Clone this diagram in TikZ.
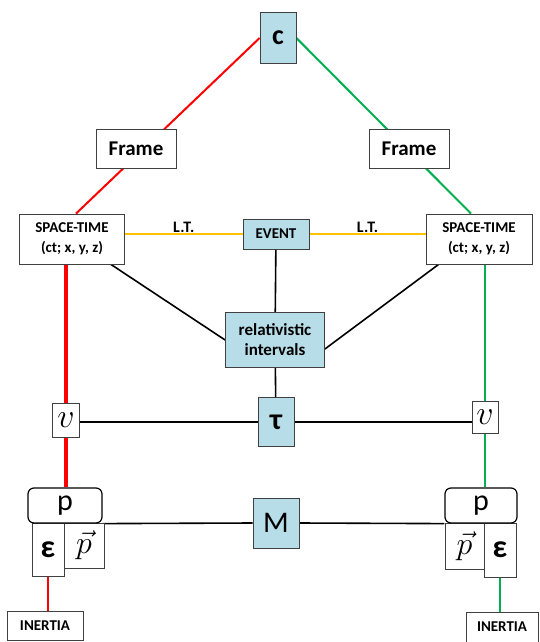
\RequirePackage{fix-cm}
\documentclass[tikz,border=0pt]{standalone}
\usepackage{fontspec}
\setmainfont{Carlito}
\usetikzlibrary{backgrounds}
\definecolor{boxBlue}{HTML}{B7DDE8}
\definecolor{lineRed}{HTML}{FF0000}
\definecolor{lineGreen}{HTML}{00B050}
\definecolor{lineOrange}{HTML}{FFC000}

\begin{document}
\begin{tikzpicture}
[x=1pt,y=-1pt,
  every node/.style={draw=black!75,line width=0.8pt,fill=white,inner sep=0pt,align=center},%
  blueBox/.style={fill=boxBlue},
  textBold/.style={font=\bfseries\fontsize{#1}{20}\selectfont},
  pBox/.style={draw=black,line width=1.2pt,rounded corners=6pt,font=\fontsize{30}{30}\selectfont},
  ltLabel/.style={draw=none,fill=none,font=\bfseries\fontsize{16}{16}\selectfont},
  redLine/.style={-,draw=lineRed,line width=2pt},
  greenLine/.style={-,draw=lineGreen,line width=2pt},
  orangeLine/.style={-,draw=lineOrange,line width=2pt},
  blackLine/.style={-,draw=black,line width=1.6pt}]
\useasboundingbox (0,0) rectangle (539,642);
% top
\node[blueBox,textBold=28,minimum width=36pt,minimum height=51pt] (c) at (278,38) {c};
\node[textBold=21,minimum width=80pt,minimum height=39pt] (frL) at (136,149) {Frame};
\node[textBold=21,minimum width=80pt,minimum height=39pt] (frR) at (409,149) {Frame};
% space-time row
\node[textBold=15,minimum width=105pt,minimum height=50pt] (stL) at (72,239) {SPACE-TIME\\(ct; x, y, z)};
\node[textBold=15,minimum width=106pt,minimum height=50pt] (stR) at (479,239) {SPACE-TIME\\(ct; x, y, z)};
\node[blueBox,textBold=15,minimum width=66pt,minimum height=30pt] (ev) at (276,234) {EVENT};
\node[blueBox,textBold=17,minimum width=99pt,minimum height=55pt] (ri) at (275,340) {relativistic\\intervals};
% tau row
\node[blueBox,textBold=30,minimum width=36pt,minimum height=49pt] (tau) at (276,422) {τ};
\node[minimum width=27pt,minimum height=34pt,font=\fontsize{34}{34}\selectfont] (vL) at (66,420) {$v$};
\node[minimum width=26pt,minimum height=32pt,font=\fontsize{34}{34}\selectfont] (vR) at (485,417) {$v$};
% M row
\node[blueBox,minimum width=46pt,minimum height=50pt,font=\fontsize{30}{30}\selectfont] (M) at (276,523) {M};
\node[minimum width=40pt,minimum height=45pt,font=\fontsize{32}{32}\selectfont] (pvL) at (84,545.5) {$\vec{p}$};
\node[textBold=32,minimum width=32pt,minimum height=53pt] (epsL) at (48,549.5) {ε};
\node[minimum width=39pt,minimum height=46pt,font=\fontsize{32}{32}\selectfont] (pvR) at (464.5,546) {$\vec{p}$};
\node[textBold=32,minimum width=32pt,minimum height=54pt] (epsR) at (500,550) {ε};
\node[pBox,minimum width=74pt,minimum height=35pt] (pL) at (65,505.5) {p};
\node[pBox,minimum width=72pt,minimum height=35pt] (pR) at (481,505.5) {p};
% bottom
\node[textBold=15,minimum width=76pt,minimum height=29pt] (inL) at (45,625.5) {INERTIA};
\node[textBold=15,minimum width=72pt,minimum height=30pt] (inR) at (502,627) {INERTIA};

% line ends off the node centres
\coordinate (stLfoot) at ([xshift=-14pt]stL.south east);
\coordinate (stRfoot) at ([xshift=13pt]stR.south west);
\coordinate (riRight) at ([yshift=-9pt]ri.east);
\coordinate (tauLeft) at (tau.west -| vL.east);
\coordinate (tauRight) at (tau.east -| vR.west);

\begin{pgfonlayer}{background}
\draw[redLine] (c.west) -- ([xshift=4pt]stL.north);
\draw[greenLine] (c.east) -- ([xshift=-8pt]stR.north);
\draw[redLine,line width=3.5pt] (vL.north |- stL.south) -- (vL.north)
  (vL.south) -- (vL.south |- pL.north);
\draw[greenLine] (vR.north |- stR.south) -- (vR.north)
  (vR.south) -- (vR.south |- pR.north);
\draw[redLine,line width=1.5pt] (epsL.south) -- (epsL.south |- inL.north);
\draw[greenLine,line width=1.5pt] (epsR.south) -- (epsR.south |- inR.north);
\draw[orangeLine] (ev.west -| stL.east) -- node[ltLabel,above=1pt] {L.T.} (ev.west);
\draw[orangeLine] (ev.east) -- node[ltLabel,above=1pt] {L.T.} (ev.east -| stR.west);
\path
\foreach \startNode/\endNode in {
  stLfoot/ri.west, stRfoot/riRight, ev/ri, ri/tau, tau.west/tauLeft,
  tau.east/tauRight, pL.south east/M.west, M.east/pR.south west}
{
  (\startNode) edge[blackLine] (\endNode)
};
\end{pgfonlayer}
\end{tikzpicture}
\end{document}
